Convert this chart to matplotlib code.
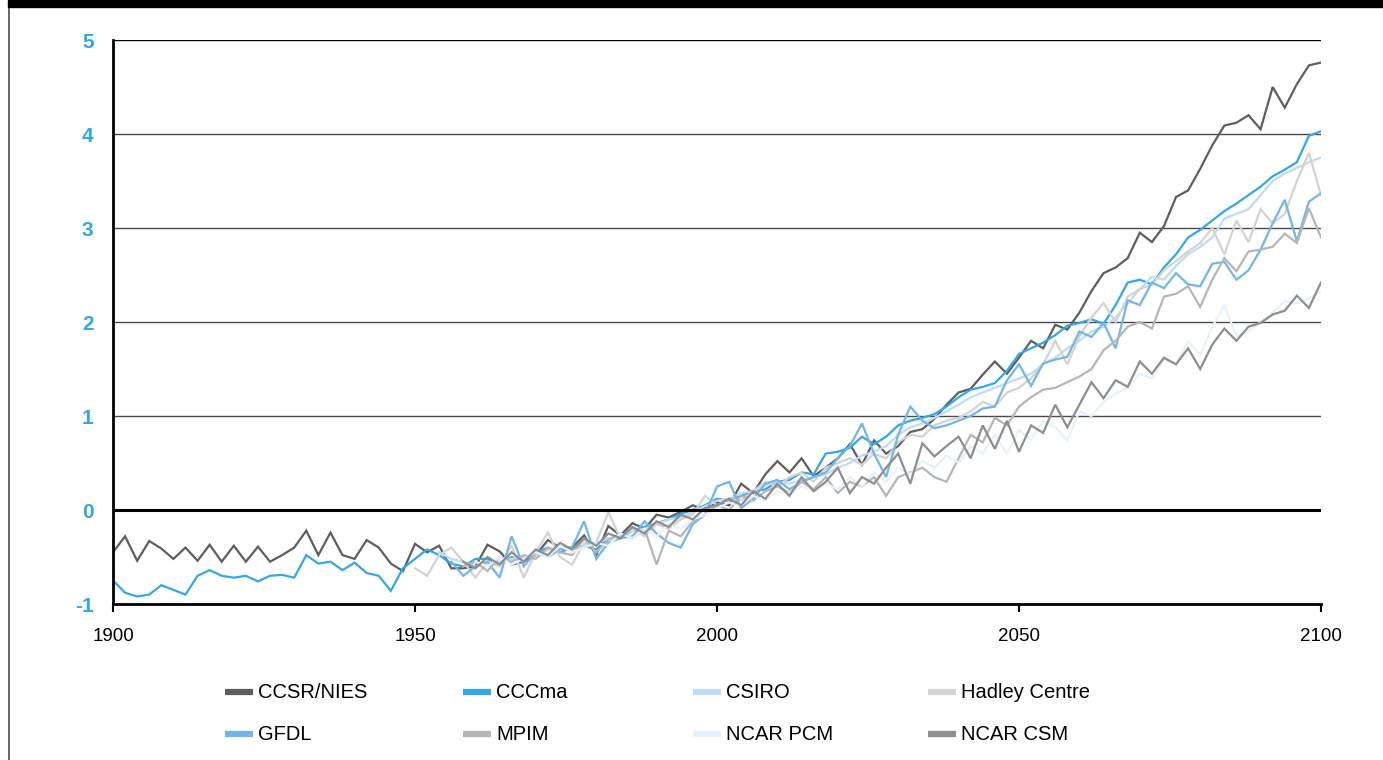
import numpy as np
import matplotlib
matplotlib.use("Agg")
import matplotlib.pyplot as plt
from matplotlib.lines import Line2D
from matplotlib.patches import Rectangle

plt.rcParams['font.family'] = ['Liberation Sans', 'DejaVu Sans']

# Global mean temperature change (°C), model runs sampled every two years.
# Each list starts at its model's first year and ends in 2100.
ccsr_nies = [
    -0.45, -0.28, -0.54, -0.33, -0.41,   # 1900s
    -0.52, -0.40, -0.54, -0.37, -0.55,   # 1910s
    -0.38, -0.55, -0.39, -0.55, -0.48,   # 1920s
    -0.40, -0.22, -0.48, -0.24, -0.48,   # 1930s
    -0.52, -0.32, -0.40, -0.57, -0.65,   # 1940s
    -0.36, -0.45, -0.38, -0.62, -0.62,   # 1950s
    -0.60, -0.37, -0.44, -0.58, -0.55,   # 1960s
    -0.48, -0.32, -0.40, -0.40, -0.27,   # 1970s
    -0.48, -0.17, -0.27, -0.14, -0.20,   # 1980s
    -0.05, -0.08, -0.02, 0.05, 0.00,     # 1990s
    0.08, 0.05, 0.28, 0.18, 0.38,        # 2000s
    0.52, 0.40, 0.55, 0.36, 0.45,        # 2010s
    0.55, 0.70, 0.48, 0.74, 0.60,        # 2020s
    0.68, 0.83, 0.86, 0.97, 1.12,        # 2030s
    1.25, 1.29, 1.44, 1.58, 1.45,        # 2040s
    1.62, 1.80, 1.72, 1.97, 1.92,        # 2050s
    2.10, 2.33, 2.52, 2.58, 2.68,        # 2060s
    2.95, 2.85, 3.02, 3.33, 3.40,        # 2070s
    3.63, 3.88, 4.09, 4.12, 4.20,        # 2080s
    4.05, 4.50, 4.28, 4.53, 4.73,        # 2090s
    4.76,                                # 2100
]
ccsr_start = 1900

cccma = [
    -0.75, -0.88, -0.92, -0.90, -0.80,
    -0.85, -0.90, -0.70, -0.64, -0.70,
    -0.72, -0.70, -0.76, -0.70, -0.69,
    -0.72, -0.48, -0.57, -0.55, -0.64,
    -0.56, -0.67, -0.70, -0.86, -0.62,
    -0.52, -0.42, -0.48, -0.57, -0.60,
    -0.52, -0.52, -0.58, -0.50, -0.55,
    -0.45, -0.40, -0.45, -0.40, -0.38,
    -0.42, -0.30, -0.30, -0.22, -0.18,
    -0.14, -0.10, -0.04, 0.00, 0.05,
    0.12, 0.10, 0.15, 0.20, 0.22,
    0.30, 0.32, 0.40, 0.38, 0.60,
    0.62, 0.66, 0.78, 0.70, 0.78,
    0.90, 0.95, 0.98, 1.02, 1.10,
    1.20, 1.28, 1.31, 1.35, 1.48,
    1.66, 1.72, 1.78, 1.86, 1.96,
    1.99, 2.03, 1.98, 2.18, 2.42,
    2.45, 2.40, 2.58, 2.72, 2.90,
    2.98, 3.08, 3.18, 3.26, 3.35,
    3.44, 3.55, 3.62, 3.70, 3.98,
    4.03,
]
cccma_start = 1900

csiro = [
    -0.45, -0.52, -0.55,                 # 1954-1958
    -0.60, -0.58, -0.55, -0.52, -0.50,
    -0.48, -0.42, -0.40, -0.42, -0.38,
    -0.36, -0.30, -0.28, -0.22, -0.20,
    -0.15, -0.10, -0.08, -0.02, 0.04,
    0.10, 0.12, 0.18, 0.20, 0.26,
    0.30, 0.28, 0.32, 0.35, 0.38,
    0.45, 0.50, 0.58, 0.62, 0.68,
    0.80, 0.88, 0.92, 0.98, 1.05,
    1.12, 1.20, 1.25, 1.30, 1.35,
    1.40, 1.45, 1.55, 1.62, 1.72,
    1.80, 1.90, 1.95, 2.05, 2.20,
    2.35, 2.48, 2.45, 2.60, 2.72,
    2.80, 2.90, 3.10, 3.15, 3.20,
    3.35, 3.50, 3.58, 3.64, 3.70,
    3.75,
]
csiro_start = 1954

hadley = [
    -0.62, -0.70, -0.48, -0.40, -0.55,   # 1950s
    -0.72, -0.55, -0.60, -0.38, -0.72,
    -0.45, -0.24, -0.50, -0.58, -0.35,
    -0.35, -0.02, -0.30, -0.20, -0.28,
    -0.15, -0.20, -0.10, -0.05, 0.15,
    0.05, 0.12, 0.10, 0.20, 0.30,
    0.25, 0.35, 0.40, 0.30, 0.45,
    0.50, 0.55, 0.48, 0.60, 0.55,
    0.72, 0.80, 0.78, 0.90, 0.95,
    0.98, 1.05, 1.15, 1.10, 1.25,
    1.30, 1.40, 1.55, 1.80, 1.55,
    1.85, 2.05, 2.20, 2.00, 2.27,
    2.35, 2.40, 2.55, 2.65, 2.75,
    2.84, 3.00, 2.72, 3.08, 2.85,
    3.20, 3.05, 3.15, 3.50, 3.80,
    3.35,
]
hadley_start = 1950

gfdl = [
    -0.55, -0.70,                        # 1956-1958
    -0.60, -0.55, -0.72, -0.28, -0.60,
    -0.45, -0.50, -0.42, -0.40, -0.12,
    -0.52, -0.35, -0.30, -0.28, -0.12,
    -0.25, -0.35, -0.40, -0.15, -0.05,
    0.25, 0.30, 0.02, 0.12, 0.28,
    0.32, 0.22, 0.30, 0.35, 0.40,
    0.55, 0.68, 0.92, 0.60, 0.35,
    0.80, 1.10, 0.95, 0.87, 0.90,
    0.95, 1.00, 1.08, 1.10, 1.38,
    1.55, 1.32, 1.56, 1.60, 1.63,
    1.90, 1.84, 1.99, 1.72, 2.23,
    2.18, 2.42, 2.36, 2.52, 2.40,
    2.38, 2.62, 2.64, 2.45, 2.55,
    2.77, 3.05, 3.30, 2.86, 3.28,
    3.37,
]
gfdl_start = 1956

mpim = [
    -0.60,                               # 1958
    -0.55, -0.65, -0.50, -0.55, -0.48,
    -0.52, -0.40, -0.45, -0.48, -0.30,
    -0.45, -0.32, -0.25, -0.30, -0.20,
    -0.58, -0.22, -0.28, -0.12, -0.05,
    0.05, 0.00, 0.15, 0.10, 0.20,
    0.25, 0.18, 0.30, 0.22, 0.35,
    0.18, 0.30, 0.25, 0.35, 0.15,
    0.35, 0.40, 0.45, 0.35, 0.30,
    0.55, 0.80, 0.72, 0.98, 0.90,
    1.10, 1.20, 1.28, 1.30, 1.36,
    1.42, 1.50, 1.70, 1.80, 1.95,
    2.00, 1.93, 2.27, 2.30, 2.38,
    2.16, 2.45, 2.68, 2.54, 2.75,
    2.77, 2.80, 2.94, 2.84, 3.21,
    2.90,
]
mpim_start = 1958

ncar_pcm = [
    -0.55, -0.60, -0.50, -0.58, -0.52,   # 1960s
    -0.45, -0.50, -0.38, -0.45, -0.40,
    -0.35, -0.38, -0.25, -0.30, -0.20,
    -0.28, -0.15, -0.20, -0.10, -0.05,
    0.02, 0.08, 0.05, 0.15, 0.10,
    0.20, 0.18, 0.25, 0.20, 0.28,
    0.22, 0.35, 0.25, 0.40, 0.30,
    0.45, 0.38, 0.52, 0.45, 0.58,
    0.50, 0.68, 0.60, 0.80, 0.60,
    0.85, 0.75, 0.95, 0.88, 0.74,
    1.05, 1.00, 1.15, 1.24, 1.30,
    1.45, 1.40, 1.60, 1.55, 1.80,
    1.65, 1.95, 2.18, 1.85, 1.90,
    2.00, 2.10, 2.22, 2.20, 2.25,
    2.32,
]
ncar_pcm_start = 1960

ncar_csm = [
    -0.55,                               # 1958
    -0.62, -0.50, -0.58, -0.45, -0.55,
    -0.42, -0.48, -0.35, -0.42, -0.30,
    -0.38, -0.25, -0.30, -0.18, -0.25,
    -0.12, -0.18, -0.05, -0.10, 0.02,
    0.05, 0.12, 0.05, 0.20, 0.12,
    0.28, 0.15, 0.35, 0.20, 0.30,
    0.45, 0.18, 0.35, 0.28, 0.45,
    0.60, 0.28, 0.71, 0.57, 0.68,
    0.78, 0.55, 0.90, 0.65, 0.95,
    0.62, 0.90, 0.82, 1.12, 0.88,
    1.12, 1.36, 1.19, 1.38, 1.31,
    1.58, 1.45, 1.62, 1.55, 1.72,
    1.50, 1.76, 1.93, 1.80, 1.95,
    1.99, 2.08, 2.12, 2.28, 2.15,
    2.42,
]
ncar_csm_start = 1958

model_names = ["CCSR/NIES", "CCCma", "CSIRO", "Hadley Centre",
               "GFDL", "MPIM", "NCAR PCM", "NCAR CSM"]
model_series = [ccsr_nies, cccma, csiro, hadley, gfdl, mpim, ncar_pcm, ncar_csm]
model_starts = [ccsr_start, cccma_start, csiro_start, hadley_start,
                gfdl_start, mpim_start, ncar_pcm_start, ncar_csm_start]
model_colors = ["#5e5e5e", "#35a7e6", "#bfdcf4", "#d3d3d3",
                "#72b6e9", "#b6b6b6", "#e5f1fb", "#8e8e8e"]

x_ticks = [1900, 1950, 2000, 2050, 2100]
y_ticks = [-1, 0, 1, 2, 3, 4, 5]

W, H = 1383, 760
fig = plt.figure(figsize=(W / 100, H / 100), dpi=100)

# page furniture: black band on top, thin rule down the left
fig.patches.append(Rectangle((8 / W, 1 - 7 / H), 1 - 8 / W, 7 / H,
                             transform=fig.transFigure, color="black", zorder=5))
fig.add_artist(Line2D([8.5 / W, 8.5 / W], [0, 1], transform=fig.transFigure,
                      color="#5a5a5a", lw=1.3))

ax = fig.add_axes([113 / W, 156 / H, 1208 / W, 564 / H])
ax.set_xlim(1900, 2100)
ax.set_ylim(-1, 5)

for vals, start, col in zip(model_series, model_starts, model_colors):
    yrs = np.arange(start, start + 2 * len(vals), 2)
    ax.plot(yrs, vals, color=col, lw=1.6, solid_joinstyle="miter", zorder=3)

# horizontal rules
for v in y_ticks[2:]:
    ax.axhline(v, color="#4a4a4a" if v < 5 else "black", lw=1.0, zorder=1)
ax.axhline(0, color="black", lw=2.2, zorder=4)

for s in ("top", "right"):
    ax.spines[s].set_visible(False)
ax.spines["left"].set_linewidth(2.0)
ax.spines["bottom"].set_linewidth(2.0)
ax.spines["left"].set_zorder(5)
ax.spines["bottom"].set_zorder(5)

ax.set_xticks(x_ticks)
ax.set_xticklabels([str(t) for t in x_ticks])
ax.set_yticks(y_ticks)
ax.set_yticklabels([str(t) for t in y_ticks])
ax.tick_params(axis="x", direction="out", length=6, width=1.5, pad=11,
               labelsize=13.5, colors="black")
ax.tick_params(axis="y", length=0, pad=14, labelsize=15, labelcolor="#35a7e6")
for lab in ax.get_yticklabels():
    lab.set_fontweight("bold")

# legend in four columns, two rows
col_x = [225, 463, 693, 928]
row_y = [692, 734]
for i, (name, col) in enumerate(zip(model_names, model_colors)):
    cx = col_x[i % 4]
    ry = row_y[i // 4]
    fig.add_artist(Line2D([cx / W, (cx + 28) / W], [1 - ry / H, 1 - ry / H],
                          transform=fig.transFigure, color=col, lw=4.5,
                          solid_capstyle="butt"))
    fig.text((cx + 33) / W, 1 - ry / H, name, ha="left", va="center",
             fontsize=14.5, color="black")

fig.savefig("out.png", dpi=100)
